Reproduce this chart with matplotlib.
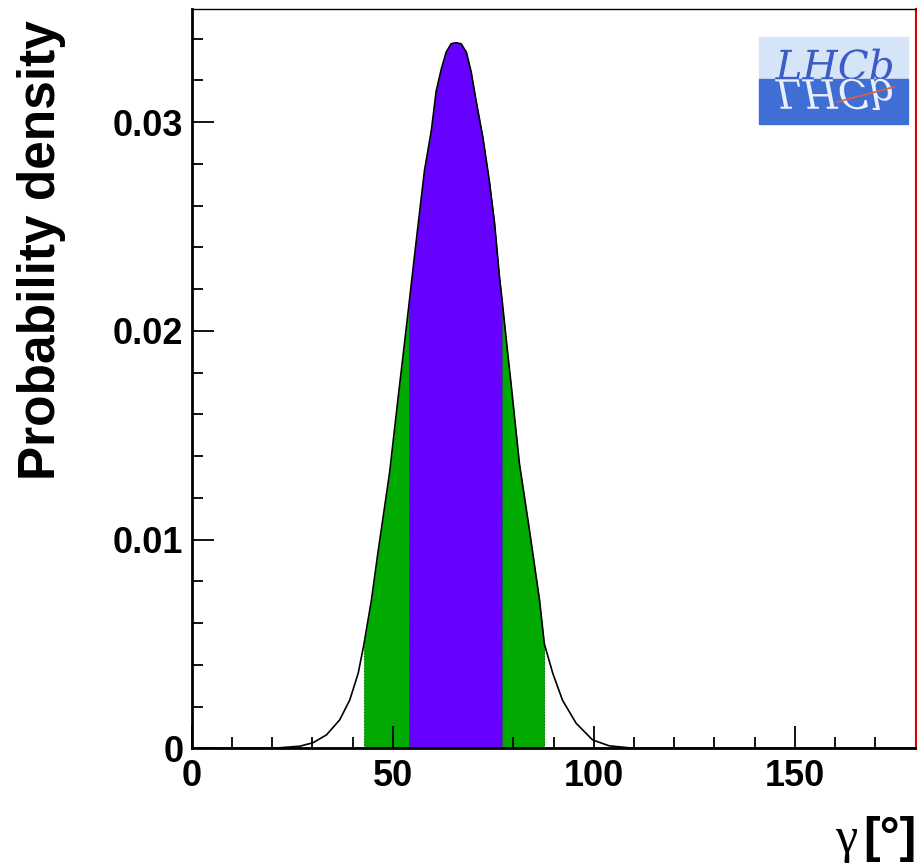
import numpy as np
import matplotlib.pyplot as plt
from matplotlib.ticker import MultipleLocator, FuncFormatter
from matplotlib.textpath import TextPath
from matplotlib.patches import PathPatch, Rectangle
from matplotlib.font_manager import FontProperties
import matplotlib.transforms as mtransforms

# --- datos ---
gamma = [0, 20, 26.9, 30.2, 33.5, 36.8, 39.3, 41.4, 42.8, 44.7, 46.3, 49.2, 51.7, 52.5,
         54.0, 55.0, 56.2, 57.9, 59.6, 60.8, 62.1, 63.3, 64.5, 65.7, 67.0, 68.3, 69.5,
         70.7, 72.4, 74.0, 75.3, 76.5, 77.2, 78.6, 79.4, 81.5, 84.0, 86.5, 87.7, 89.8,
         92.2, 95.6, 99.7, 103.8, 110, 180]
density = [0, 0, 0.0001, 0.00027, 0.00064, 0.00136, 0.00231, 0.00359, 0.00495, 0.0071,
           0.00935, 0.01318, 0.0174, 0.0187, 0.0212, 0.0229, 0.0249, 0.02769, 0.0296,
           0.03148, 0.03256, 0.03335, 0.03375, 0.0338, 0.03375, 0.03335, 0.0324,
           0.03105, 0.02928, 0.02721, 0.0252, 0.02266, 0.02146, 0.0189, 0.0175,
           0.01364, 0.01045, 0.0071, 0.0050, 0.00359, 0.00231, 0.0012, 0.0004,
           0.00012, 0, 0]
band68 = [54.0, 77.2]
band95 = [42.8, 87.7]

x = np.array(gamma)
y = np.array(density)

W, H = 917, 865
fig = plt.figure(figsize=(W / 100, H / 100), dpi=100)
ax = fig.add_axes([191.7 / W, 1 - 748.3 / H, (915.5 - 191.7) / W, (748.3 - 9.3) / H])

verde = '#00aa00'
morado = '#6600ff'

m95 = (x >= band95[0]) & (x <= band95[1])
m68 = (x >= band68[0]) & (x <= band68[1])
ax.fill_between(x[m95], 0, y[m95], color=verde, lw=0, zorder=1)
ax.fill_between(x[m68], 0, y[m68], color=morado, lw=0, zorder=2)
for b in band95 + band68:
    yb = y[np.argmin(np.abs(x - b))]
    ax.plot([b, b], [0, yb], color='#006600', lw=0.8, ls=':', zorder=3)

ax.plot(x, y, color='black', lw=1.2, zorder=4, solid_joinstyle='round')
ax.axhline(0, color='#ff8080', lw=1.2, zorder=0)

ax.set_xlim(0, 180)
ax.set_ylim(0, 0.0354)

fuente = 'Liberation Sans'
ax.xaxis.set_major_locator(MultipleLocator(50))
ax.xaxis.set_minor_locator(MultipleLocator(10))
ax.yaxis.set_major_locator(MultipleLocator(0.01))
ax.yaxis.set_minor_locator(MultipleLocator(0.002))
ax.yaxis.set_major_formatter(FuncFormatter(lambda v, p: '0' if abs(v) < 1e-9 else f'{v:.2f}'))
ax.tick_params(which='both', direction='in', top=False, right=False, width=1.3, color='black')
ax.tick_params(which='major', length=16)
ax.tick_params(which='minor', length=8)
ax.tick_params(axis='y', which='major', pad=6)
ax.tick_params(axis='x', which='major', pad=8)
for lab in ax.get_xticklabels() + ax.get_yticklabels():
    lab.set_fontfamily(fuente)
    lab.set_fontweight('bold')
    lab.set_fontsize(26)

for s in ['left', 'bottom']:
    ax.spines[s].set_linewidth(2)
ax.spines['top'].set_linewidth(1)
ax.spines['right'].set_color('#dd0000')
ax.spines['right'].set_linewidth(1.5)

fig.text(42 / W, 1 - 20 / H, 'Probability density', rotation=90, ha='center', va='top',
         fontsize=37, fontweight='bold', family=fuente)
fig.text(857 / W, 1 - 852 / H, 'γ', ha='right', va='baseline', fontsize=36,
         family='Liberation Serif')
fig.text(916 / W, 1 - 852 / H, '[°]', ha='right', va='baseline', fontsize=36,
         fontweight='bold', family=fuente)

# --- logo LHCb aproximado ---
lx0, lx1, ly0, lym, ly1 = 759.3, 908.3, 124.0, 79.3, 36.7
fig.patches.append(Rectangle((lx0 / W, 1 - lym / H), (lx1 - lx0) / W, (lym - ly1) / H,
                             transform=fig.transFigure, color='#d6e4f7', zorder=5))
fig.patches.append(Rectangle((lx0 / W, 1 - ly0 / H), (lx1 - lx0) / W, (ly0 - lym) / H,
                             transform=fig.transFigure, color='#3f6fd4', zorder=5))
fp = FontProperties(family='DejaVu Serif', style='italic')
tp = TextPath((0, 0), 'LHCb', size=40, prop=fp)
bb = tp.get_extents()
sx = (892 - 775) / bb.width
t_top = mtransforms.Affine2D().translate(-bb.x0, 0).scale(sx, sx).translate(775, H - 79.3)
t_bot = mtransforms.Affine2D().translate(-bb.x0, 0).scale(sx, -sx).translate(775, H - 79.3)
fig.patches.append(PathPatch(t_top.transform_path(tp), transform=mtransforms.IdentityTransform(),
                             color='#3a5cc4', lw=0, zorder=6))
fig.patches.append(PathPatch(t_bot.transform_path(tp), transform=mtransforms.IdentityTransform(),
                             color='#e8eefa', lw=0, zorder=6))
fig.lines.append(plt.Line2D([837 / W, 894 / W], [1 - 102 / H, 1 - 87 / H],
                            transform=fig.transFigure, color='#e06030', lw=1.2, zorder=7))

fig.savefig('out.png', dpi=100)
